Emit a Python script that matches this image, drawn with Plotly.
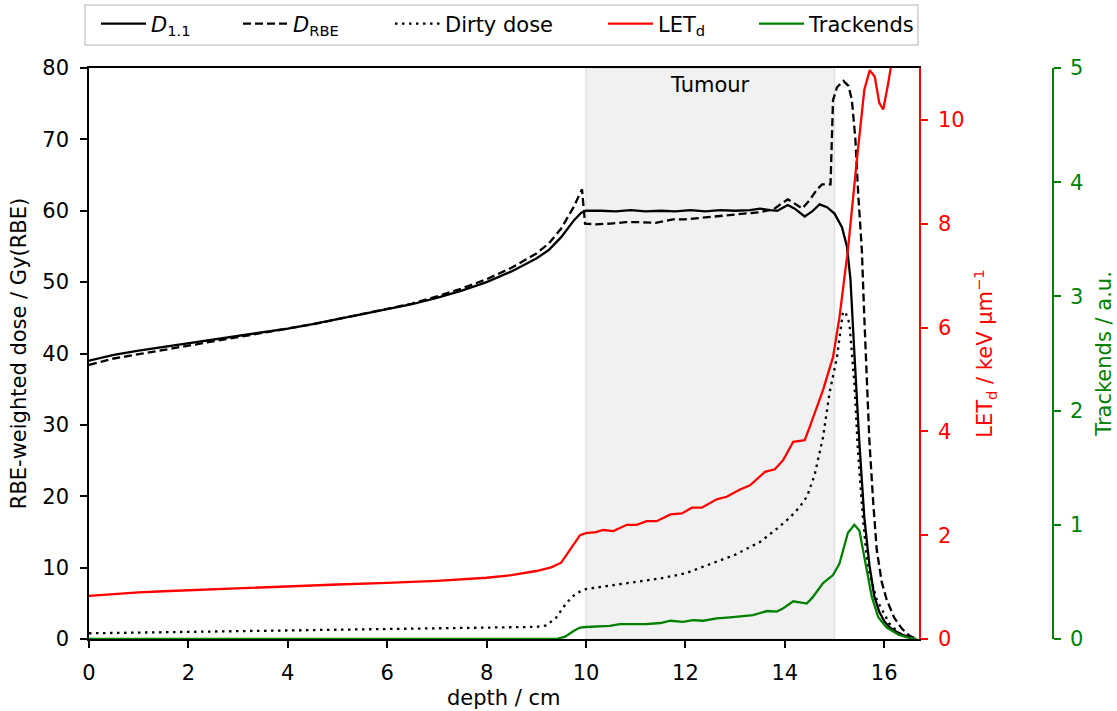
import plotly.graph_objects as go

# ---------------- data ----------------
d11_depth = [0, 0.5, 1, 1.5, 2, 2.5, 3, 3.5, 4, 4.5, 5, 5.5, 6, 6.5, 7, 7.5, 8, 8.5, 9, 9.25, 9.5, 9.75, 9.9,
             10.0, 10.3, 10.6, 10.9, 11.2, 11.5, 11.8, 12.1, 12.4, 12.7, 13.0, 13.3, 13.5, 13.7, 13.85, 14.06,
             14.2, 14.4, 14.55, 14.7, 14.85, 15.0, 15.15, 15.25, 15.32, 15.4, 15.5, 15.6, 15.7, 15.8, 15.9,
             16.0, 16.1, 16.25, 16.4, 16.6]
d11_dose = [39.0, 39.8, 40.4, 40.9, 41.4, 41.9, 42.4, 42.9, 43.5, 44.1, 44.8, 45.4, 46.1, 46.9, 47.8, 48.8,
            50.0, 51.5, 53.3, 54.5, 56.3, 58.6, 59.7, 60.0, 60.0, 59.9, 60.1, 59.9, 60.0, 59.9, 60.1, 59.9,
            60.1, 60.0, 60.1, 60.3, 60.1, 60.0, 60.8, 60.3, 59.2, 59.9, 60.9, 60.5, 59.6, 57.7, 55.0, 50.5,
            40.0, 27.5, 17.0, 10.5, 6.0, 3.8, 2.5, 1.7, 1.0, 0.5, 0.05]

drbe_depth = [0, 0.5, 1, 1.5, 2, 2.5, 3, 3.5, 4, 4.5, 5, 5.5, 6, 6.5, 7, 7.5, 8, 8.5, 9, 9.25, 9.5, 9.75,
              9.85, 9.92, 9.98, 10.2, 10.5, 10.8, 11.1, 11.4, 11.75, 12.0, 12.3, 12.6, 12.85, 13.2, 13.5,
              13.77, 13.95, 14.06, 14.2, 14.35, 14.5, 14.65, 14.75, 14.92, 14.97, 15.05, 15.18, 15.28,
              15.35, 15.42, 15.48, 15.55, 15.6, 15.7, 15.78, 15.85, 15.95, 16.05, 16.2, 16.35, 16.5, 16.65]
drbe_dose = [38.4, 39.3, 39.9, 40.5, 41.0, 41.6, 42.2, 42.8, 43.4, 44.1, 44.8, 45.5, 46.2, 47.0, 48.0, 49.1,
             50.4, 52.0, 54.0, 55.4, 57.5, 60.5, 62.0, 63.0, 58.2, 58.1, 58.2, 58.4, 58.4, 58.3, 58.8, 58.8,
             59.0, 59.2, 59.4, 59.6, 59.8, 60.2, 61.0, 61.6, 61.0, 60.3, 61.5, 63.0, 63.7, 63.7, 75.5, 77.3,
             78.2, 77.5, 75.5, 70.0, 62.0, 54.5, 45.0, 28.0, 19.0, 12.5, 8.0, 5.5, 3.0, 1.5, 0.5, 0.0]

dirty_depth = [0, 1, 2, 3, 4, 5, 6, 7, 8, 8.5, 9.0, 9.2, 9.4, 9.6, 9.8, 10.0, 10.5, 11.0, 11.5, 12.0, 12.4,
               13.0, 13.5, 13.85, 14.1, 14.3, 14.45, 14.6, 14.77, 14.9, 15.05, 15.17, 15.22, 15.3, 15.4,
               15.47, 15.57, 15.67, 15.85, 16.1, 16.3, 16.5]
dirty_dose = [0.8, 0.9, 1.0, 1.1, 1.2, 1.25, 1.3, 1.4, 1.5, 1.55, 1.7, 1.9, 3.0, 5.0, 6.4, 7.0, 7.5, 8.0,
              8.5, 9.2, 10.2, 11.8, 13.6, 15.5, 17.0, 18.5, 20.0, 23.0, 28.3, 34.5, 39.5, 45.8, 45.8, 44.2,
              35.8, 26.5, 17.0, 10.0, 5.5, 2.2, 0.8, 0.1]

let_depth = [0, 0.5, 1, 1.5, 2, 3, 4, 5, 6, 7, 8, 8.5, 9.0, 9.3, 9.5, 9.68, 9.88, 10.0, 10.2, 10.35, 10.55,
             10.82, 11.02, 11.22, 11.42, 11.7, 11.93, 12.13, 12.33, 12.63, 12.83, 13.1, 13.3, 13.6, 13.8,
             13.97, 14.17, 14.4, 14.5, 14.77, 14.97, 15.1, 15.27, 15.45, 15.6, 15.71, 15.81, 15.9, 15.98,
             16.08, 16.13, 16.2]
let_d = [0.83, 0.87, 0.90, 0.92, 0.94, 0.98, 1.02, 1.05, 1.08, 1.12, 1.18, 1.23, 1.31, 1.38, 1.47, 1.71,
         2.0, 2.04, 2.06, 2.1, 2.08, 2.2, 2.2, 2.27, 2.27, 2.4, 2.42, 2.53, 2.53, 2.69, 2.74, 2.88, 2.96,
         3.22, 3.27, 3.45, 3.8, 3.83, 4.08, 4.8, 5.43, 6.2, 7.5, 9.23, 10.58, 10.96, 10.83, 10.33, 10.2,
         10.7, 11.0, 11.8]

track_depth = [0, 9.4, 9.58, 9.75, 9.88, 10.0, 10.48, 10.68, 10.95, 11.2, 11.5, 11.7, 11.95, 12.15, 12.36,
               12.63, 12.9, 13.1, 13.36, 13.64, 13.84, 13.97, 14.17, 14.3, 14.44, 14.55, 14.77, 14.97,
               15.1, 15.27, 15.4, 15.5, 15.6, 15.75, 15.88, 16.05, 16.3, 16.5, 16.65]
trackends = [0, 0, 0.02, 0.07, 0.1, 0.105, 0.115, 0.13, 0.13, 0.13, 0.14, 0.16, 0.15, 0.165, 0.16, 0.18,
             0.19, 0.2, 0.21, 0.245, 0.24, 0.27, 0.33, 0.32, 0.31, 0.36, 0.49, 0.56, 0.66, 0.93, 1.0, 0.95,
             0.72, 0.37, 0.19, 0.1, 0.035, 0.01, 0.0]

tumour_range = [10, 15]
x_ticks = [0, 2, 4, 6, 8, 10, 12, 14, 16]
dose_ticks = [0, 10, 20, 30, 40, 50, 60, 70, 80]
let_ticks = [0, 2, 4, 6, 8, 10]
track_ticks = [0, 1, 2, 3, 4, 5]

names = ["<i>D</i><sub>1.1</sub>", "<i>D</i><sub>RBE</sub>", "Dirty dose", "LET<sub>d</sub>", "Trackends"]

# ---------------- figure ----------------
FONT = "DejaVu Sans"
FS = 21
W, H = 1117, 711
L, R, T, B = 89, 64, 68, 72
pw = W - L - R
ph = H - T - B
plot_right = 919
xdom = (plot_right - L) / pw

def px2paper_x(px):
    return (px - L) / pw

def px2paper_y(py):
    return (H - B - py) / ph

fig = go.Figure()
lw = 2.3
fig.add_trace(go.Scatter(x=d11_depth, y=d11_dose, mode="lines", name=names[0],
                         line=dict(color="black", width=lw), legend="legend"))
fig.add_trace(go.Scatter(x=drbe_depth, y=drbe_dose, mode="lines", name=names[1],
                         line=dict(color="black", width=lw, dash="8px,4px"), legend="legend2"))
fig.add_trace(go.Scatter(x=dirty_depth, y=dirty_dose, mode="lines", name=names[2],
                         line=dict(color="black", width=lw, dash="2.5px,4.5px"), legend="legend3"))
fig.add_trace(go.Scatter(x=let_depth, y=let_d, mode="lines", name=names[3], yaxis="y2",
                         line=dict(color="#ff0000", width=lw), legend="legend4"))
fig.add_trace(go.Scatter(x=track_depth, y=trackends, mode="lines", name=names[4], yaxis="y3",
                         line=dict(color="#008000", width=lw), legend="legend5"))

# tumour band
fig.add_shape(type="rect", xref="x", yref="paper", x0=tumour_range[0], x1=tumour_range[1], y0=0, y1=1,
              fillcolor="#f1f1f1", line=dict(color="#e2e2e2", width=1.5), layer="below")
fig.add_annotation(x=(tumour_range[0] + tumour_range[1]) / 2, y=px2paper_y(85), xref="x", yref="paper",
                   xanchor="center", yanchor="middle",
                   text="Tumour", showarrow=False, font=dict(family=FONT, size=FS, color="black"))

# x-axis title
fig.add_annotation(x=xdom / 2, y=px2paper_y(711), xref="paper", yref="paper",
                   xanchor="center", yanchor="bottom", borderpad=0,
                   text="depth / cm", showarrow=False, font=dict(family=FONT, size=FS, color="black"))

# legend frame
fig.add_shape(type="rect", xref="paper", yref="paper",
              x0=px2paper_x(85), x1=px2paper_x(918), y0=px2paper_y(45), y1=px2paper_y(5),
              fillcolor="white", line=dict(color="#cccccc", width=1.5))

text_starts = [151, 293, 445, 658, 809]
legend_common = dict(orientation="h", yanchor="middle", xanchor="left", bgcolor="rgba(0,0,0,0)",
                     borderwidth=0, font=dict(family=FONT, size=FS, color="black"),
                     itemwidth=45, tracegroupgap=0, xref="container", yref="container")
legend_keys = ["legend", "legend2", "legend3", "legend4", "legend5"]
layout_legends = {}
for key, ts in zip(legend_keys, text_starts):
    layout_legends[key] = dict(x=(ts - 55) / W, y=(H - 24) / H, **legend_common)

axis_font = dict(family=FONT, size=FS, color="black")
fig.update_layout(
    width=W, height=H,
    margin=dict(l=L, r=R, t=T, b=B, pad=0, autoexpand=False),
    paper_bgcolor="white", plot_bgcolor="white",
    showlegend=True,
    font=dict(family=FONT, size=FS, color="black"),
    xaxis=dict(domain=[0, xdom], range=[0, 16.7], tickmode="array", tickvals=x_ticks,
               ticks="outside", ticklen=7, tickwidth=1.6, tickcolor="black", ticklabelstandoff=7,
               showline=True, linecolor="black", linewidth=1.6, mirror=True,
               showgrid=False, zeroline=False, tickfont=axis_font),
    yaxis=dict(range=[0, 80], tickmode="array", tickvals=dose_ticks,
               ticks="outside", ticklen=7, tickwidth=1.6, tickcolor="black", ticklabelstandoff=7,
               showline=True, linecolor="black", linewidth=1.6,
               showgrid=False, zeroline=False, tickfont=axis_font,
               title=dict(text="RBE-weighted dose / Gy(RBE)", font=axis_font, standoff=10)),
    yaxis2=dict(range=[0, 11], overlaying="y", side="right", anchor="x", tickmode="array",
                tickvals=let_ticks, ticks="outside", ticklen=7, tickwidth=1.6, tickcolor="#ff0000",
                ticklabelstandoff=6,
                showline=True, linecolor="#ff0000", linewidth=1.6, showgrid=False, zeroline=False,
                tickfont=dict(family=FONT, size=FS, color="#ff0000"),
                title=dict(text="LET<sub>d</sub> / keV µm<sup>−1</sup>",
                           font=dict(family=FONT, size=FS, color="#ff0000"), standoff=14)),
    yaxis3=dict(range=[0, 5], overlaying="y", side="right", anchor="free", position=1.0,
                tickmode="array", tickvals=track_ticks, ticks="outside", ticklen=7, tickwidth=1.6,
                tickcolor="#008000", showline=True, linecolor="#008000", linewidth=1.6,
                ticklabelstandoff=5,
                showgrid=False, zeroline=False,
                tickfont=dict(family=FONT, size=FS, color="#008000"),
                title=dict(text="Trackends / a.u.", font=dict(family=FONT, size=FS, color="#008000"),
                           standoff=13)),
    **layout_legends,
)

fig.write_html("out.html")
